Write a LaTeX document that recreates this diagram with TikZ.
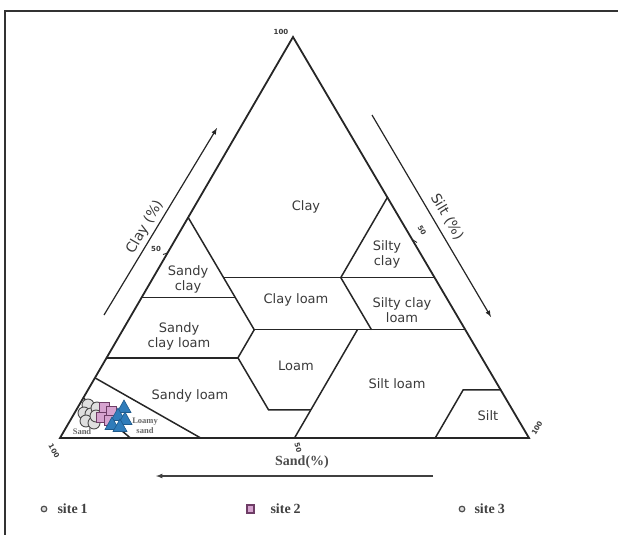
\documentclass[tikz,border=0pt]{standalone}
\usepackage{fontspec}
\setmainfont{Liberation Serif}
\setsansfont{DejaVu Sans}

\definecolor{sitepink}{HTML}{D6A3CF}
\definecolor{siteplum}{HTML}{6E3D66}
\definecolor{siteblue}{HTML}{2F7CBA}
\definecolor{sitebluedark}{HTML}{1E5A8C}
\definecolor{labelgray}{HTML}{3A3A3A}

\tikzset{
  soil/.style={font=\sffamily\fontsize{13}{15}\selectfont, text=labelgray, align=center},
  bound/.style={draw=black!85, line width=1.5pt},
  axislabel/.style={font=\sffamily\fontsize{14}{16}\selectfont, text=labelgray},
  pct/.style={font=\sffamily\bfseries\fontsize{7}{8}\selectfont, text=labelgray},
  tinylabel/.style={font=\bfseries\fontsize{8.5}{9.5}\selectfont, text=black!60, align=center},
  site/.style={font=\bfseries\fontsize{14}{16}\selectfont, text=black!75, anchor=west},
  dot/.style={draw=black!70, fill=gray!25, line width=0.9pt},
  sq/.style={draw=siteplum, fill=sitepink, line width=0.9pt},
  tri/.style={draw=sitebluedark, fill=siteblue, line width=0.6pt},
}

\begin{document}
\begin{tikzpicture}[x=1pt,y=-1pt]
\useasboundingbox (0,0) rectangle (618,535);
\draw [line width=2pt, black!80] (5,545) -- (5,11) -- (625,11);

% corners of the texture triangle
\coordinate (sandC) at (60,438);
\coordinate (siltC) at (529,438);
\coordinate (clayC) at (293,37);
\draw [bound, line width=1.8pt] (sandC) -- (clayC) -- (siltC) -- cycle;

% class boundaries
\draw [bound] (188.15,217.45) -- (254.23,329.73) -- (237.92,357.8) -- (268.6,409.93) -- (310.81,409.93);
\draw [bound] (141.55,297.65) -- (235.35,297.65);
\draw [bound] (223.55,277.6) -- (434.6,277.6);
\draw [bound] (387.4,197.4) -- (340.8,277.6) -- (371.48,329.73);
\draw [bound] (254.23,329.73) -- (465.28,329.73);
\draw [bound] (106.6,357.8) -- (237.92,357.8);
\draw [bound] (357.41,329.73) -- (294.5,438);
\draw [bound] (435.2,438) -- (463.16,389.88) -- (500.68,389.88);
\draw [bound] (94.95,377.85) -- (200.7,438);
\draw [bound] (83.3,397.9) -- (130.35,438);

% ticks
\draw [bound, line width=0.8pt] (167.5,253) -- (163,254.5);
\draw [bound, line width=0.8pt] (413,240) -- (417,242.5);

\node (p100a) at (281,32) [pct]{100};
\node (p100b) at (54,451) [pct, rotate=-60]{100};
\node (p100c) at (537,428) [pct, rotate=60]{100};
\node (p50a) at (156,249) [pct]{50};
\node (p50b) at (422,230) [pct, rotate=-60]{50};
\node (p50c) at (298,448) [pct, rotate=-75]{50};

% axes
\coordinate (clayA) at (104,315);
\coordinate (clayB) at (217,128);
\coordinate (siltA) at (372,115);
\coordinate (siltB) at (491,317);
\coordinate (sandA) at (433,476);
\coordinate (sandB) at (156,476);
\draw [-latex, line width=1.2pt, black!85] (clayA) -- (clayB);
\draw [-latex, line width=1.2pt, black!85] (siltA) -- (siltB);
\draw [-latex, line width=1.2pt, black!75] (sandA) -- (sandB);
\node (clayAx) at (145,227) [axislabel, rotate=59.85]{Clay (\%)};
\node (siltAx) at (447,217) [axislabel, rotate=-59.6]{Silt (\%)};
\node (sandAx) at (302,462) [font=\bfseries\fontsize{14}{16}\selectfont, text=black!70]{Sand(\%)};

% classes
\node (clayL) at (306,207) [soil]{Clay};
\node (sclayL) at (188,279) [soil]{Sandy\\clay};
\node (siclayL) at (387,254) [soil]{Silty\\clay};
\node (cloamL) at (296,300) [soil]{Clay loam};
\node (siclloamL) at (402,310) [soil]{Silty clay\\loam};
\node (scloamL) at (179,336) [soil]{Sandy\\clay loam};
\node (loamL) at (296,366) [soil]{Loam};
\node (sloamL) at (190,396) [soil]{Sandy loam};
\node (siloamL) at (397,384) [soil]{Silt loam};
\node (siltL) at (488,416) [soil]{Silt};
\node (lsandL) at (145,426) [tinylabel]{Loamy\\sand};
\node (sandL) at (82,432) [tinylabel]{Sand};

% samples
\foreach \x/\y in {88/405, 84/413, 91/414, 86/421, 94/423, 97/408, 96/416}
  \filldraw [dot] (\x,\y) circle (6);
\foreach \x/\y in {104/407, 111/411, 101/417, 109/420}
  \filldraw [sq] (\x-5,\y-5) rectangle ++(10,10);
\foreach \x/\y in {124/408, 118/416, 125/420, 112/425, 120/427}
  \filldraw [tri] (\x,\y-8) -- ++(7,12.5) -- ++(-14,0) -- cycle;

% legend
\filldraw [dot, line width=1.2pt] (44,509) circle (2.8);
\node (site1) at (54,509) [site]{site\hspace{3pt}1};
\filldraw [sq, line width=1.2pt] (247,505) rectangle (254,513);
\node (site2) at (267,509) [site]{site\hspace{3pt}2};
\filldraw [dot, line width=1.2pt] (462,509) circle (2.8);
\node (site3) at (471,509) [site]{site\hspace{3pt}3};
\end{tikzpicture}
\end{document}
